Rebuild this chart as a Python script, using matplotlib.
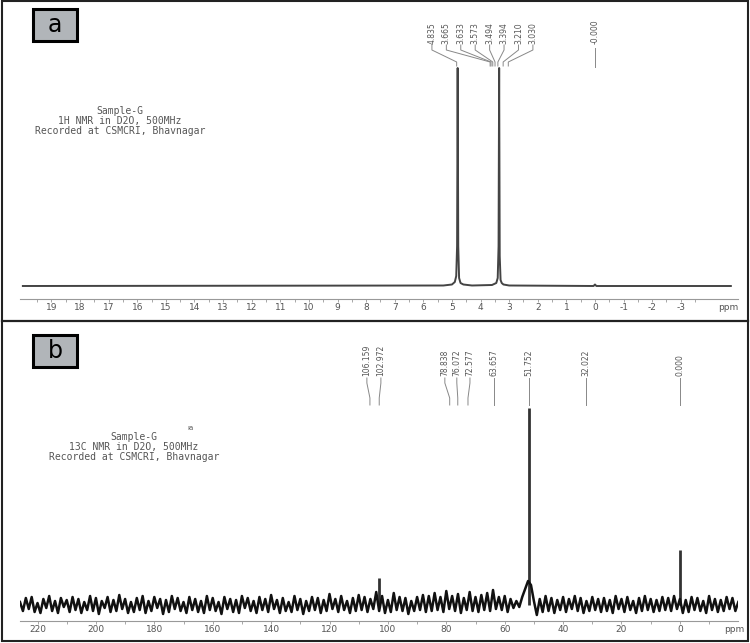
import matplotlib
matplotlib.use('Agg')
import matplotlib.pyplot as plt
import numpy as np
from matplotlib.patches import Rectangle
from matplotlib.lines import Line2D

W, H = 750, 643

# 1H spectrum: ppm and height above baseline (px-like units)
h_ppm = [20.0, 5.3, 5.0, 4.9, 4.85, 4.82, 4.80, 4.78, 4.75, 4.70, 4.6, 4.3,
         3.6, 3.45, 3.40, 3.37, 3.35, 3.33, 3.30, 3.26, 3.2, 3.0,
         0.05, 0.0, -0.05, -4.75]
h_int = [0, 0.5, 1.5, 4, 10, 40, 218, 40, 8, 3, 1.5, 0.5,
         1, 3, 8, 40, 218, 30, 6, 3, 1.5, 0.5,
         0, 1.5, 0, 0]
h_shifts = [4.835, 3.665, 3.633, 3.573, 3.494, 3.394, 3.210, 3.030]
h_labels = ["4.835", "3.665", "3.633", "3.573", "3.494", "3.394", "3.210", "3.030"]
h_ticks = list(range(19, -4, -1))

# 13C spectrum: noise trace sampled every 1 ppm from 226 down to -20
c_noise = [3, -6, 7, -4, 8, -7, 2, -8, 6, -3, 9, -6, 4, -8, 7, -2, 5, -7, 8, -5,
           6, -8, 3, -5, 9, -6, 7, -9, 4, -3, 8, -7, 5, -6, 10, -4, 6, -8, 3, -7,
           7, -5, 9, -8, 4, -6, 8, -3, 6, -9, 5, -7, 9, -4, 7, -6, 3, -8, 8, -5,
           6, -7, 4, -8, 9, -5, 7, -6, 3, -9, 8, -4, 6, -7, 5, -8, 9, -3, 7, -6,
           4, -8, 8, -5, 6, -7, 10, -4, 5, -8, 7, -6, 3, -7, 9, -5, 6, -9, 4, -6,
           8, -5, 7, -8, 5, -6, 11, -4, 6, -7, 9, -5, 4, -8, 7, -6, 10, -5, 8, -7,
           6, -4, 13, -6, 9, -8, 5, -7, 12, -5, 8, -6, 7, -9, 4, -6, 8, -5, 10, -7,
           9, -6, 12, -5, 8, -7, 14, -4, 9, -6, 11, -8, 7, -5, 13, -6, 8, -7, 10, -5,
           12, -6, 15, -4, 8, -5, 9, -7, 6, -3, 4, -2, 8, 16, 24, 20, 4, -10, 6, -7,
           9, -6, 7, -8, 5, -5, 8, -7, 6, -4, 9, -6, 7, -8, 4, -6, 8, -5, 6, -7,
           7, -6, 5, -8, 9, -4, 6, -7, 8, -5, 4, -8, 7, -6, 9, -5, 6, -7, 5, -6,
           8, -5, 7, -6, 9, -4, 6, -8, 5, -7, 8, -5, 7, -6, 4, -8, 9, -5, 6, -7,
           5, -6, 8, -4, 7, -6, 3]
c_ppm = np.arange(226, -21, -1)
c_peaks = [103.0, 51.75, 0.0]
c_peak_heights = [27, 197, 55]
c_shifts = [106.159, 102.972, 78.838, 76.072, 72.577, 63.657, 51.752, 32.022, 0.000]
c_labels = ["106.159", "102.972", "78.838", "76.072", "72.577", "63.657", "51.752", "32.022", "0.000"]
c_ticks = list(range(220, -1, -20))

GREY = '#555555'
AXC = '#999999'


def style_axis(ax, ticks, minor):
    for s in ['top', 'left', 'right']:
        ax.spines[s].set_visible(False)
    ax.spines['bottom'].set_color(AXC)
    ax.spines['bottom'].set_linewidth(0.8)
    ax.set_yticks([])
    ax.set_xticks(ticks)
    ax.set_xticklabels([str(t) for t in ticks])
    ax.set_xticks(minor, minor=True)
    ax.tick_params(axis='x', which='both', direction='out', length=2, width=0.6,
                   color=AXC, labelsize=6.5, labelcolor=GREY, pad=1)
    ax.patch.set_alpha(0)


def peak_labels(ax, shifts, texts, label_x, y_text, ys):
    for s, t, lx in zip(shifts, texts, label_x):
        ax.plot([lx, lx, s, s], ys, color='#888888', lw=0.7, clip_on=False)
        ax.text(lx, y_text, t, rotation=90, ha='center', va='bottom',
                fontsize=5.5, color=GREY, clip_on=False)


fig = plt.figure(figsize=(W / 100, H / 100), dpi=100)

# panel a: 1H
ax1 = fig.add_axes([20 / W, 1 - 299 / H, 718 / W, 289 / H])
ax1.set_xlim(20.1, -5.0)
ax1.set_ylim(0, 289)
ax1.plot(h_ppm, 13 + np.array(h_int), color='#444444', lw=1.4)
style_axis(ax1, h_ticks, np.arange(19.5, -4.0, -0.5))
ax1.text(-4.65, -8, 'ppm', ha='center', va='center', fontsize=6.5, color=GREY)
peak_labels(ax1, h_shifts, h_labels, np.linspace(5.70, 2.17, len(h_shifts)),
            255, [254, 249, 237, 233])
peak_labels(ax1, [0.0], ["-0.000"], [0.0], 255, [251, 251, 232, 232])

# panel b: 13C
ax2 = fig.add_axes([20 / W, 1 - 621 / H, 718 / W, 291 / H])
ax2.set_xlim(226.0, -19.9)
ax2.set_ylim(0, 291)
ax2.vlines(c_peaks, 16, 16 + np.array(c_peak_heights), color='#333333', lw=2)
ax2.plot(c_ppm, 16 + np.array(c_noise), color='#111111', lw=1.8)
style_axis(ax2, c_ticks, np.arange(220, -20, -10))
ax2.text(-18.5, -8, 'ppm', ha='center', va='center', fontsize=6.5, color=GREY)
c_label_x = [107.2, 102.4, 80.5, 76.4, 71.9, 63.657, 51.752, 32.022, 0.0]
peak_labels(ax2, c_shifts, c_labels, c_label_x, 245, [243, 238, 223, 216])

# instrument notes
fig.text(120 / W, 1 - 121 / H, "Sample-G\n1H NMR in D2O, 500MHz\nRecorded at CSMCRI, Bhavnagar",
         ha='center', va='center', family='DejaVu Sans Mono', fontsize=7,
         linespacing=0.95, color=GREY)
fig.text(134 / W, 1 - 447 / H, "Sample-G\n13C NMR in D2O, 500MHz\nRecorded at CSMCRI, Bhavnagar",
         ha='center', va='center', family='DejaVu Sans Mono', fontsize=7,
         linespacing=0.95, color=GREY)
fig.text(190 / W, 1 - 428 / H, "ıa", ha='center', va='center', fontsize=5, color=GREY)

# panel letter boxes
for letter, top in [('a', 9), ('b', 335)]:
    fig.patches.append(Rectangle((33 / W, 1 - (top + 32) / H), 44 / W, 32 / H,
                                 facecolor='#b1b5b9', edgecolor='black', lw=2.2,
                                 transform=fig.transFigure))
    fig.text(55 / W, 1 - (top + 16) / H, letter, ha='center', va='center',
             fontsize=17, color='black')

# outer frame and divider
fig.patches.append(Rectangle((2 / W, 1 - 641 / H), 746 / W, 640 / H, fill=False,
                             edgecolor='#222222', lw=1.5, transform=fig.transFigure))
fig.lines.append(Line2D([2 / W, 748 / W], [1 - 321 / H, 1 - 321 / H], color='#222222',
                        lw=1.6, transform=fig.transFigure))

fig.savefig('out.png', dpi=100)
